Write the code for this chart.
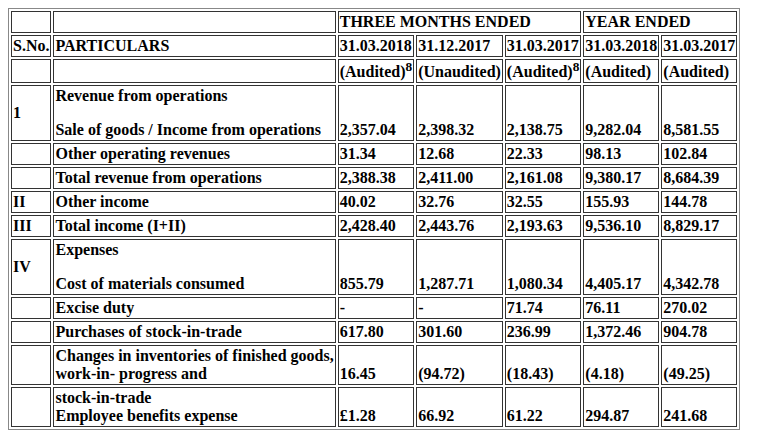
import React from 'react';

const periods = ['31.03.2018', '31.12.2017', '31.03.2017', '31.03.2018', '31.03.2017'];
const audit = ['(Audited)', '(Unaudited)', '(Audited)', '(Audited)', '(Audited)'];
const auditNote = ['8', '', '8', '', ''];

type Row = { sno: string; head?: string; label: string; values: string[]; h: number };

const rows: Row[] = [
  { sno: '1', head: 'Revenue from operations', label: 'Sale of goods / Income from operations', values: ['2,357.04', '2,398.32', '2,138.75', '9,282.04', '8,581.55'], h: 56 },
  { sno: '', label: 'Other operating revenues', values: ['31.34', '12.68', '22.33', '98.13', '102.84'], h: 20 },
  { sno: '', label: 'Total revenue from operations', values: ['2,388.38', '2,411.00', '2,161.08', '9,380.17', '8,684.39'], h: 20 },
  { sno: 'II', label: 'Other income', values: ['40.02', '32.76', '32.55', '155.93', '144.78'], h: 20 },
  { sno: 'III', label: 'Total income (I+II)', values: ['2,428.40', '2,443.76', '2,193.63', '9,536.10', '8,829.17'], h: 20 },
  { sno: 'IV', head: 'Expenses', label: 'Cost of materials consumed', values: ['855.79', '1,287.71', '1,080.34', '4,405.17', '4,342.78'], h: 54 },
  { sno: '', label: 'Excise duty', values: ['-', '-', '71.74', '76.11', '270.02'], h: 20 },
  { sno: '', label: 'Purchases of stock-in-trade', values: ['617.80', '301.60', '236.99', '1,372.46', '904.78'], h: 20 },
  { sno: '', head: 'Changes in inventories of finished goods,', label: 'work-in- progress and', values: ['16.45', '(94.72)', '(18.43)', '(4.18)', '(49.25)'], h: 40 },
  { sno: '', head: 'stock-in-trade', label: 'Employee benefits expense', values: ['£1.28', '66.92', '61.22', '294.87', '241.68'], h: 40 },
];

const cell: React.CSSProperties = {
  border: '1px solid #333',
  padding: '1px 1px',
  verticalAlign: 'bottom',
  whiteSpace: 'nowrap',
  lineHeight: '18px',
};

export default function App() {
  return (
    <div style={{ fontFamily: '"Liberation Serif", serif', fontWeight: 'bold', fontSize: 16, color: '#000', paddingBottom: 200 }}>
      <table style={{ borderCollapse: 'separate', borderSpacing: 2, border: '1px solid #888', width: 732 }}>
        <tbody>
          <tr style={{ height: 22 }}>
            <td style={{ ...cell, width: 38 }}></td>
            <td style={cell}></td>
            <td style={cell} colSpan={3}>THREE MONTHS ENDED</td>
            <td style={cell} colSpan={2}>YEAR ENDED</td>
          </tr>
          <tr style={{ height: 20 }}>
            <td style={cell}>S.No.</td>
            <td style={cell}>PARTICULARS</td>
            {periods.map((p, i) => <td key={i} style={cell}>{p}</td>)}
          </tr>
          <tr style={{ height: 24 }}>
            <td style={cell}></td>
            <td style={cell}></td>
            {audit.map((a, i) => (
              <td key={i} style={cell}>{a}{auditNote[i] && <sup style={{ lineHeight: 0 }}>{auditNote[i]}</sup>}</td>
            ))}
          </tr>
          {rows.map((r, i) => (
            <tr key={i} style={{ height: r.h }}>
              <td style={{ ...cell, verticalAlign: 'middle' }}>{r.sno}</td>
              <td style={cell}>
                {r.head && <div style={{ marginBottom: r.h > 50 ? 16 : 0 }}>{r.head}</div>}
                <div>{r.label}</div>
              </td>
              {r.values.map((v, j) => <td key={j} style={cell}>{v}</td>)}
            </tr>
          ))}
        </tbody>
      </table>
    </div>
  );
}
